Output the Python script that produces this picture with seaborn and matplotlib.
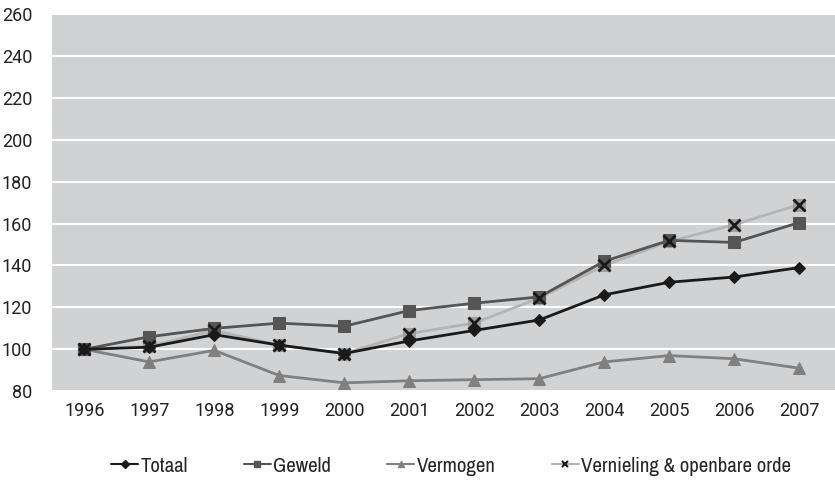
import matplotlib.pyplot as plt
import seaborn as sns
import pandas as pd
from matplotlib.lines import Line2D
from matplotlib import font_manager

years = [1996, 1997, 1998, 1999, 2000, 2001, 2002, 2003, 2004, 2005, 2006, 2007]
totaal = [100, 101, 107, 102, 98, 104, 109, 114, 126, 132, 134.5, 139]
geweld = [100, 106, 110, 112.5, 111, 118.5, 122, 125, 142, 152, 151, 160.5]
vermogen = [100, 94, 99.5, 87.5, 84, 85, 85.5, 86, 94, 97, 95.5, 91]
vernieling = [100, 101.5, 109, 102, 98, 107.5, 112.5, 124.5, 140, 151.5, 159.5, 169]

names = ['Totaal', 'Geweld', 'Vermogen', 'Vernieling & openbare orde']
colors = ['#1a1a1a', '#555555', '#808080', '#b4b4b4']
markers = ['D', 's', '^', 's']

df = pd.DataFrame({'jaar': years, 'Totaal': totaal, 'Geweld': geweld,
                   'Vermogen': vermogen, 'Vernieling & openbare orde': vernieling})
long = df.melt(id_vars='jaar', var_name='reeks', value_name='index')

sns.set_style('white')
plt.rcParams['font.family'] = ['Roboto', 'DejaVu Sans']

fig = plt.figure(figsize=(8.35, 4.83), dpi=100)
ax = fig.add_axes([0.062, 0.19, 0.938, 0.781])
ax.set_facecolor('#d1d2d4')

# draw in reverse so Totaal ends up on top
for name, c, m in reversed(list(zip(names, colors, markers))):
    sub = long[long['reeks'] == name]
    ms = 6 if m == 'D' else 8
    mc = '#9e9e9e' if name.startswith('Vernieling') else c
    sns.lineplot(data=sub, x='jaar', y='index', ax=ax, color=c, linewidth=2,
                 marker=m, markersize=9 if name.startswith('Vernieling') else ms,
                 markerfacecolor=mc, markeredgecolor=mc, legend=False, zorder=3)
    if name.startswith('Vernieling'):
        ax.plot(years, vernieling, linestyle='none', marker='x', markersize=8,
                markeredgewidth=2, color='#1a1a1a', zorder=4)

ax.set_xlim(1995.5, 2007.55)
ax.set_ylim(80, 260)
ax.set_xticks(years)
ax.set_yticks(range(80, 261, 20))
ax.yaxis.grid(True, color='white', linewidth=1.5)
ax.set_axisbelow(True)
ax.tick_params(axis='both', labelsize=13, colors='#222222', length=0)
ax.tick_params(axis='y', pad=14)
ax.tick_params(axis='x', pad=8)
ax.set_xlabel('')
ax.set_ylabel('')
for s in ax.spines.values():
    s.set_visible(False)

handles = []
for name, c, m in zip(names, colors, markers):
    mc = '#a8a8a8' if name.startswith('Vernieling') else c
    if name.startswith('Vernieling'):
        handles.append(Line2D([], [], color=c, linewidth=1.5, marker='x',
                              markersize=5, markeredgecolor='#1a1a1a', markeredgewidth=1.5))
    else:
        handles.append(Line2D([], [], color=c, linewidth=1.5, marker=m,
                              markersize=4 if m == 'D' else 5, markerfacecolor=mc, markeredgecolor=mc))

narrow = [f.name for f in font_manager.fontManager.ttflist if 'Narrow' in f.name]
leg_font = {'family': [narrow[0], 'Roboto'] if narrow else ['Roboto'], 'size': 15 if narrow else 13}
fig.legend(handles, names, loc='center', bbox_to_anchor=(0.54, 0.035), ncol=4,
           frameon=False, prop=leg_font, handlelength=1.3, handletextpad=0.1,
           columnspacing=2.7)

fig.savefig('out.png', dpi=100)
